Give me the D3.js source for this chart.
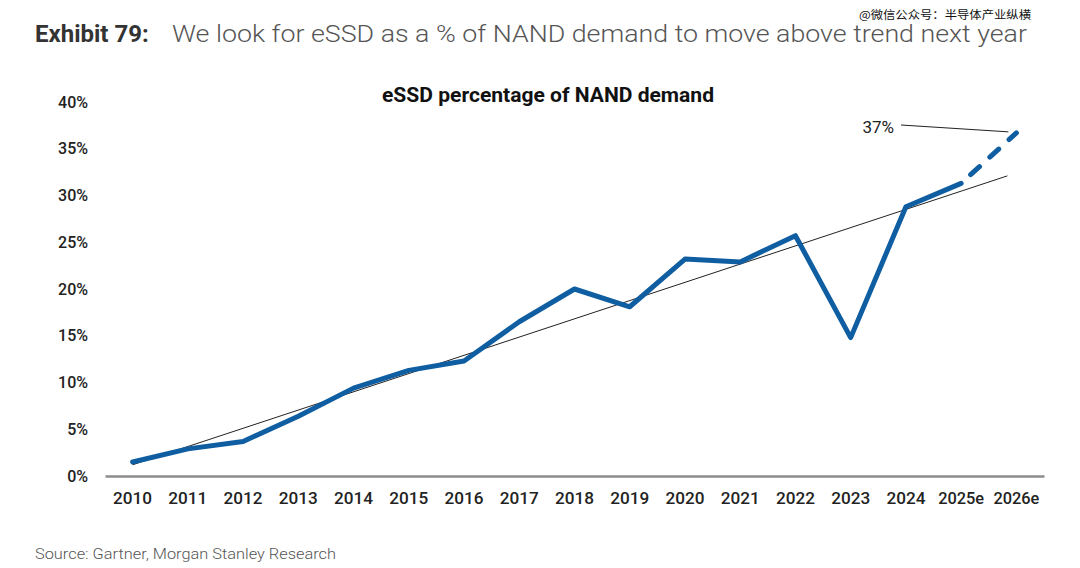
<!DOCTYPE html>
<html>
<head>
<meta charset="utf-8">
<script src="https://cdn.jsdelivr.net/npm/d3@7"></script>
<style>
  body { margin: 0; background: #fff; }
  svg { font-family: Roboto, "Noto Sans", sans-serif; }
</style>
</head>
<body>
<div class="chart"></div>
<script>
// data
var years = ["2010", "2011", "2012", "2013", "2014", "2015", "2016", "2017", "2018",
  "2019", "2020", "2021", "2022", "2023", "2024", "2025e", "2026e"];
var essdShare = [1.5, 2.9, 3.7, 6.4, 9.4, 11.3, 12.3, 16.5, 20.0,
  18.1, 23.2, 22.9, 25.7, 14.8, 28.8, 31.3, 36.7];
var yTicks = [0, 5, 10, 15, 20, 25, 30, 35, 40];
var trendYears = ["2010", "2026e"];
var trendValues = [1.2, 32.4];
var forecastFrom = 15; // index of 2025e, dashed after this

var svgWidth = 1080, svgHeight = 568;
var margin = { top: 102, right: 36, bottom: 92, left: 105 };
var width = svgWidth - margin.left - margin.right;
var height = svgHeight - margin.top - margin.bottom;

var svg = d3.select(".chart").append("svg")
  .attr("width", svgWidth)
  .attr("height", svgHeight);

// header
svg.append("text").attr("x", 35).attr("y", 42).attr("font-size", 24)
  .attr("font-weight", 700).attr("fill", "#333").text("Exhibit 79:");
svg.append("text")
  .attr("x", 172).attr("y", 42)
  .attr("font-size", 24).attr("font-weight", 300).attr("fill", "#555")
  .attr("textLength", 855).attr("lengthAdjust", "spacingAndGlyphs")
  .text("We look for eSSD as a % of NAND demand to move above trend next year");

svg.append("text")
  .attr("x", 1031).attr("y", 19)
  .attr("text-anchor", "end")
  .attr("font-size", 11.5)
  .attr("font-family", "'Noto Sans CJK SC', sans-serif")
  .attr("fill", "#111")
  .attr("textLength", 172).attr("lengthAdjust", "spacingAndGlyphs")
  .text("@微信公众号：半导体产业纵横");

svg.append("text")
  .attr("x", 548).attr("y", 102)
  .attr("text-anchor", "middle")
  .attr("font-size", 20).attr("font-weight", 700).attr("fill", "#111")
  .attr("textLength", 332).attr("lengthAdjust", "spacingAndGlyphs")
  .text("eSSD percentage of NAND demand");

var g = svg.append("g").attr("transform", `translate(${margin.left}, ${margin.top})`);

var x = d3.scaleBand().domain(years).range([0, width]);
var y = d3.scaleLinear().domain([0, 40]).range([height, 0]);
var cx = d => x(d) + x.bandwidth() / 2;

// y axis labels only
var leftAxis = d3.axisLeft(y).tickValues(yTicks).tickFormat(d => d + "%").tickSize(0).tickPadding(17);
var ya = g.append("g").call(leftAxis);
ya.select(".domain").remove();
ya.selectAll("text").attr("font-size", 16).attr("font-weight", 500).attr("fill", "#222")
  .attr("font-family", "Roboto, sans-serif");

// x axis
var bottomAxis = d3.axisBottom(x).tickSize(0).tickPadding(16);
var xa = g.append("g").attr("transform", `translate(0, ${height})`).call(bottomAxis);
xa.select(".domain").attr("stroke", "#8c8c8c").attr("stroke-width", 2.5);
xa.selectAll("text").attr("font-size", 16.5).attr("font-weight", 500).attr("fill", "#222")
  .attr("font-family", "Roboto, sans-serif")
  .attr("textLength", d => d.length > 4 ? 46 : 39)
  .attr("lengthAdjust", "spacingAndGlyphs");

// trend line
g.append("line")
  .attr("x1", cx(trendYears[0])).attr("y1", y(trendValues[0]))
  .attr("x2", cx(trendYears[1]) - 9).attr("y2", y(trendValues[1] - 0.3))
  .attr("stroke", "#222").attr("stroke-width", 1);

var pts = years.map((yr, i) => ({ yr: yr, v: essdShare[i] }));
var line = d3.line().x(d => cx(d.yr)).y(d => y(d.v));

g.append("path")
  .datum(pts.slice(0, forecastFrom + 1))
  .attr("d", line)
  .attr("fill", "none")
  .attr("stroke", "#105ea2")
  .attr("stroke-width", 5)
  .attr("stroke-linejoin", "round")
  .attr("stroke-linecap", "round");

// forecast dashes, aligned so a dash ends right on the last point
var fc = g.append("path")
  .datum(pts.slice(forecastFrom))
  .attr("d", line)
  .attr("fill", "none")
  .attr("stroke", "#105ea2")
  .attr("stroke-width", 5)
  .attr("stroke-linecap", "round")
  .attr("stroke-dasharray", "12,14");
var L = fc.node().getTotalLength();
fc.attr("stroke-dashoffset", ((10 - L % 26) + 26) % 26);

// 37% annotation
var last = pts[pts.length - 1];
g.append("line")
  .attr("x1", 796).attr("y1", 23)
  .attr("x2", cx(last.yr) - 8).attr("y2", y(last.v) - 1)
  .attr("stroke", "#222").attr("stroke-width", 1);
g.append("text")
  .attr("x", 789).attr("y", 31)
  .attr("text-anchor", "end")
  .attr("font-size", 17).attr("fill", "#222")
  .text(Math.round(last.v) + "%");

// source
svg.append("text")
  .attr("x", 35).attr("y", 559)
  .attr("font-size", 15).attr("font-weight", 300).attr("fill", "#555")
  .attr("textLength", 301).attr("lengthAdjust", "spacingAndGlyphs")
  .text("Source: Gartner, Morgan Stanley Research");
</script>
</body>
</html>
